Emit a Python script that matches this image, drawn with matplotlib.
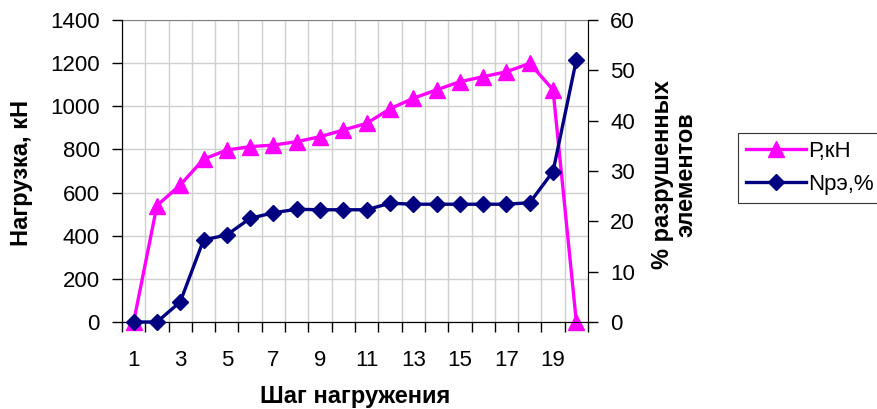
import matplotlib
matplotlib.use("Agg")
import matplotlib.pyplot as plt
import numpy as np

# data
steps = list(range(1, 21))
load_kn = [0, 540, 635, 755, 797, 813, 820, 836, 859, 890,
           921, 988, 1037, 1076, 1114, 1137, 1160, 1199, 1076, 0]
broken_pct = [0, 0, 4.0, 16.3, 17.3, 20.6, 21.7, 22.4, 22.3, 22.3,
              22.3, 23.6, 23.4, 23.4, 23.4, 23.4, 23.4, 23.7, 29.9, 52.1]
x_labels = [str(s) for s in steps[::2]]

plt.rcParams['font.family'] = ['Liberation Sans', 'DejaVu Sans']
plt.rcParams['font.size'] = 16

PINK = '#ff00ff'
NAVY = '#000080'

fig = plt.figure(figsize=(8.78, 4.09), dpi=100)
ax = fig.add_axes([122 / 878, 87 / 409, 466 / 878, 302 / 409])
ax2 = ax.twinx()

ln1, = ax.plot(steps, load_kn, color=PINK, lw=2.4, marker='^', ms=11,
               label='Р,кН', clip_on=False, zorder=3)
ln2, = ax2.plot(steps, broken_pct, color=NAVY, lw=2.4, marker='D', ms=8.5,
                label='Nрэ,%', clip_on=False, zorder=3)

ax.set_xlim(0.5, 20.5)
ax.set_ylim(0, 1400)
ax.set_yticks(np.arange(0, 1401, 200))
ax2.set_ylim(0, 60)
ax2.set_yticks(np.arange(0, 61, 10))

# category axis: labels on every other step, ticks between categories
ax.set_xticks(steps[::2])
ax.set_xticklabels(x_labels)
ax.set_xticks(np.arange(0.5, 21, 1), minor=True)
ax.tick_params(axis='x', which='major', length=0, pad=20)
ax.tick_params(axis='x', which='minor', length=7, width=1, direction='out')
ax.tick_params(axis='y', length=7, width=1, direction='out', pad=9)
ax2.tick_params(axis='y', length=7, width=1, direction='out', pad=9)

ax.grid(True, which='minor', axis='x', color='#d0d0d0', lw=1)
ax.grid(True, which='major', axis='y', color='#d0d0d0', lw=1)
ax.set_axisbelow(True)

for a in (ax, ax2):
    a.spines['top'].set_color('#808080')
    a.spines['left'].set_color('black')
    a.spines['bottom'].set_color('black')
ax2.spines['right'].set_color('black')
ax2.spines['top'].set_visible(False)
ax.spines['right'].set_visible(False)

fig.text(22 / 878, 1 - 173 / 409, 'Нагрузка, кН', rotation=90,
         ha='center', va='center', fontweight='bold', fontsize=17)
fig.text(674 / 878, 1 - 175 / 409, '% разрушенных\nэлементов', rotation=90,
         ha='center', va='center', fontweight='bold', fontsize=17,
         linespacing=1.0)
fig.text(355 / 878, 1 - 396 / 409, 'Шаг нагружения',
         ha='center', va='center', fontweight='bold', fontsize=17)

leg = fig.legend(handles=[ln1, ln2], loc='upper left',
                 bbox_to_anchor=(738 / 878, 1 - 133 / 409),
                 frameon=True, fancybox=False, shadow=False,
                 handlelength=2.7, handletextpad=0.1, borderpad=0.35,
                 labelspacing=0.55, borderaxespad=0)
leg.get_frame().set_edgecolor('black')
leg.get_frame().set_linewidth(0.8)

fig.savefig('out.png', dpi=100)
